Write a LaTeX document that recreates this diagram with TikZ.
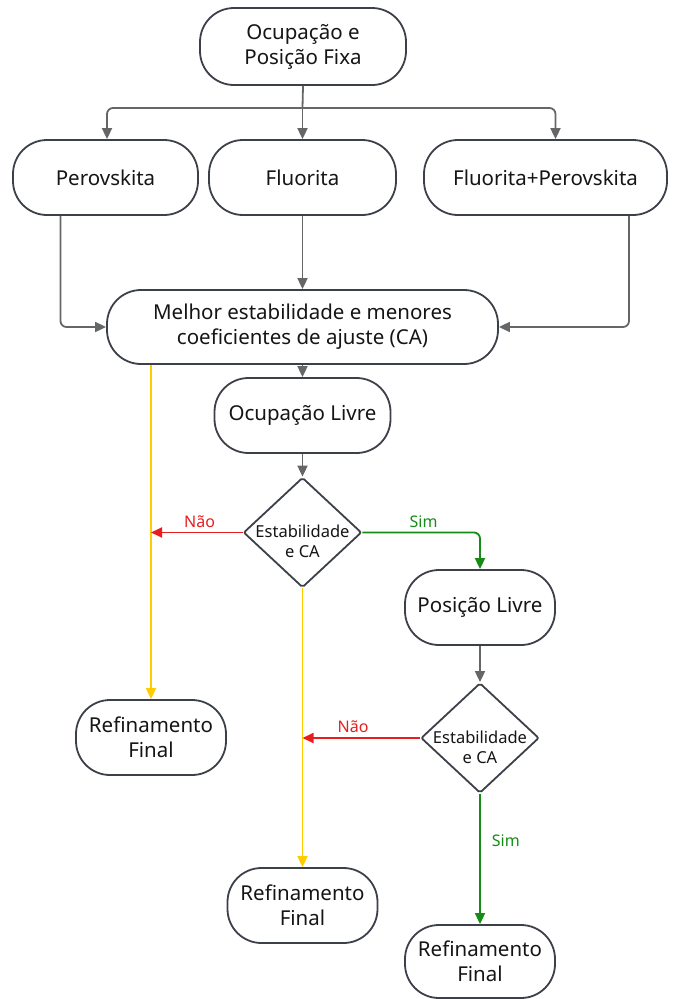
\documentclass[tikz,border=0pt]{standalone}
\usepackage{fontspec}
\setmainfont{Noto Sans}
\usetikzlibrary{arrows.meta,shapes.geometric}
\definecolor{edgec}{HTML}{3C4049}
\definecolor{connc}{HTML}{666666}
\definecolor{yelc}{HTML}{FFCC00}
\definecolor{redc}{HTML}{E61E1E}
\definecolor{greenc}{HTML}{158C15}
\definecolor{textc}{HTML}{151515}
\tikzset{
  term/.style={draw=edgec, line width=1.8pt, rounded corners=34pt, inner sep=0pt,
    align=center, font=\fontsize{20.5}{25}\selectfont, text=textc, fill=white},
  dia/.style={diamond, draw=edgec, line width=1.8pt, inner sep=0pt, rounded corners=2pt,
    minimum width=118pt, minimum height=110pt, fill=white},
  dtext/.style={align=center, inner sep=0pt, text=textc, font=\fontsize{16.5}{20}\selectfont},
  lbl/.style={font=\fontsize{16}{18}\selectfont, inner sep=1pt},
  arr/.style={-{Triangle[length=11pt,width=10pt]}, line width=1.8pt, draw=connc},
  plain/.style={line width=1.8pt, draw=connc},
  yarr/.style={arr, draw=yelc},
  rarr/.style={arr, draw=redc},
  garr/.style={arr, draw=greenc},
}
\begin{document}
\begin{tikzpicture}[x=1pt,y=-1pt]
\useasboundingbox (0,0) rectangle (676,999);
% nodes
\node[term, minimum width=206, minimum height=77] (top) at (303,46.5) {Ocupação e\\Posição Fixa};
\node[term, minimum width=185, minimum height=75] (pero) at (105.5,177.5) {Perovskita};
\node[term, minimum width=187, minimum height=75] (flu) at (302.5,177.5) {Fluorita};
\node[term, minimum width=243, minimum height=75] (fp) at (545.5,177.5) {Fluorita+Perovskita};
\node[term, minimum width=391, minimum height=74] (mel) at (302.5,327) {Melhor estabilidade e menores\\coeficientes de ajuste (CA)};
\node[term, minimum width=176, minimum height=75] (ol) at (302.5,415.5) {Ocupação Livre};
\node[dia] (d1) at (302.5,532.5) {};
\node[dtext] at ([yshift=-9pt]d1.center) {Estabilidade\\e CA};
\node[term, minimum width=150, minimum height=75] (pl) at (480,607.5) {Posição Livre};
\node[dia] (d2) at (480,738) {};
\node[dtext] at ([yshift=-9pt]d2.center) {Estabilidade\\e CA};
\node[term, minimum width=150, minimum height=75] (rf1) at (151,737.5) {Refinamento\\Final};
\node[term, minimum width=150, minimum height=75] (rf2) at (302.5,905.5) {Refinamento\\Final};
\node[term, minimum width=150, minimum height=73] (rf3) at (480,961.5) {Refinamento\\Final};
% split
\coordinate (j) at (302.5,108);
\draw[plain] (top.south) -- (j);
\draw[arr, rounded corners=6pt] (j) -| ([xshift=1.5pt]pero.north);
\draw[arr] (j) -- (flu.north);
\draw[arr, rounded corners=6pt] (j) -| ([xshift=10pt]fp.north);
% into Melhor
\draw[arr, rounded corners=6pt] ([xshift=-45pt]pero.south) |- (mel.west);
\draw[arr] (flu.south) -- (mel.north);
\draw[arr, rounded corners=6pt] ([xshift=83.5pt]fp.south) |- (mel.east);
\draw[arr] (mel.south) -- (ol.north);
\draw[yarr] (mel.south -| rf1.north) -- (rf1.north);
\draw[arr] (ol.south) -- (d1.north);
% decision 1
\draw[rarr] (d1.west) -- (d1.west -| rf1.north) node[lbl, pos=0.47, above=3pt, text=redc] {Não};
\draw[garr, rounded corners=6pt] (d1.east) -| (pl.north) node[lbl, pos=0.26, above=3pt, text=greenc] {Sim};
\draw[yarr] (d1.south) -- (rf2.north);
% decision 2
\draw[arr] (pl.south) -- (d2.north);
\draw[rarr] (d2.west) -- (d2.west -| rf2.north) node[lbl, pos=0.57, above=3pt, text=redc] {Não};
\draw[garr] (d2.south) -- (rf3.north) node[lbl, pos=0.36, right=10pt, text=greenc] {Sim};
\end{tikzpicture}
\end{document}
